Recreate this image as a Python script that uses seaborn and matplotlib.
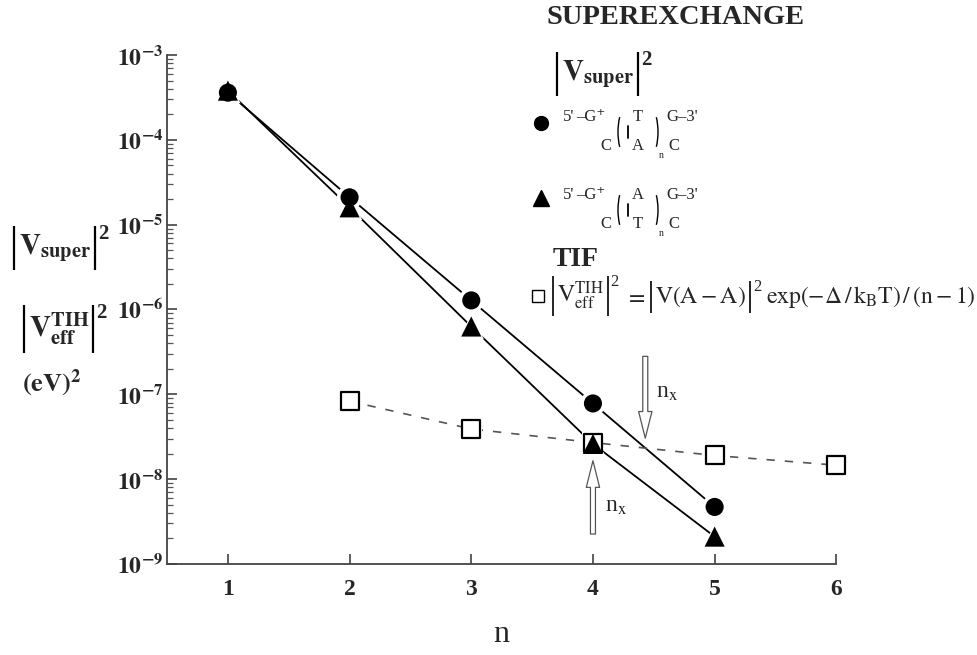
import numpy as np
import pandas as pd
import matplotlib
matplotlib.use("Agg")
import matplotlib.pyplot as plt
import seaborn as sns
from matplotlib.lines import Line2D
from matplotlib.patches import FancyArrowPatch, Arc
from matplotlib.transforms import IdentityTransform

# number of bridging base pairs
n_super = [1, 2, 3, 4, 5]
n_tif = [2, 3, 4, 5, 6]

# |V_super|^2 (eV^2) for the two bridge sequences
v_TA = [3.6e-4, 2.1e-5, 1.28e-6, 7.8e-8, 4.7e-9]   # circles
v_AT = [3.8e-4, 1.6e-5, 6.3e-7, 2.6e-8, 2.1e-9]    # triangles
# thermally induced hopping effective coupling
v_tif = [8.3e-8, 3.9e-8, 2.7e-8, 1.9e-8, 1.46e-8]  # squares

ytick_vals = [1e-9, 1e-8, 1e-7, 1e-6, 1e-5, 1e-4, 1e-3]
ytick_labels = [r"$\mathbf{10^{-9}}$", r"$\mathbf{10^{-8}}$", r"$\mathbf{10^{-7}}$",
                r"$\mathbf{10^{-6}}$", r"$\mathbf{10^{-5}}$", r"$\mathbf{10^{-4}}$",
                r"$\mathbf{10^{-3}}$"]
xtick_vals = [1, 2, 3, 4, 5, 6]

sns.set_theme(style="ticks")
plt.rcParams["font.family"] = ["Liberation Serif", "DejaVu Serif"]
plt.rcParams["mathtext.fontset"] = "stix"

df_super = pd.DataFrame({"n": n_super, "TA": v_TA, "AT": v_AT})
df_tif = pd.DataFrame({"n": n_tif, "tif": v_tif})

W, H = 977, 655
fig = plt.figure(figsize=(W / 100, H / 100), dpi=100)
ax = fig.add_axes([0.171, 0.139, 0.685, 0.777])

# connecting lines
sns.lineplot(data=df_super, x="n", y="TA", ax=ax, color="black", lw=1.3, zorder=2)
sns.lineplot(data=df_super, x="n", y="AT", ax=ax, color="black", lw=1.3, zorder=2)
sns.lineplot(data=df_tif, x="n", y="tif", ax=ax, color="#555555", lw=1.2,
             dashes=False, zorder=2)
ax.lines[-1].set_dashes([5, 6])

# white halos that open small gaps in the lines around each marker
for d, col, mk, s in [(df_super, "TA", "o", 330), (df_super, "AT", "^", 330),
                      (df_tif, "tif", "s", 230)]:
    sns.scatterplot(data=d, x="n", y=col, ax=ax, marker=mk, s=s, color="white",
                    edgecolor="none", zorder=3, legend=False, clip_on=False)

sns.scatterplot(data=df_tif, x="n", y="tif", ax=ax, marker="s", s=150,
                facecolor="white", edgecolor="black", linewidth=1.6, zorder=4,
                legend=False, clip_on=False)
sns.scatterplot(data=df_super, x="n", y="AT", ax=ax, marker="^", s=210,
                color="black", edgecolor="none", zorder=5, legend=False)
sns.scatterplot(data=df_super, x="n", y="TA", ax=ax, marker="o", s=170,
                color="black", edgecolor="none", zorder=6, legend=False)

ax.set_yscale("log")
ax.set_xlim(0.5, 6.0)
ax.set_ylim(1e-9, 1e-3)
ax.set_yticks(ytick_vals)
ax.set_yticklabels(ytick_labels, fontsize=17)
ax.yaxis.set_minor_locator(matplotlib.ticker.LogLocator(base=10, subs=np.arange(2, 10)))
ax.yaxis.set_minor_formatter(matplotlib.ticker.NullFormatter())
ax.set_xticks(xtick_vals)
ax.set_xticklabels([str(v) for v in xtick_vals], fontsize=17, fontweight="bold")
ax.tick_params(axis="both", which="major", direction="in", length=7, width=1.1,
               color="#333333")
ax.tick_params(axis="x", which="major", pad=11)
ax.tick_params(axis="y", which="minor", direction="in", length=4, width=0.9,
               color="#555555")
ax.tick_params(axis="y", which="major", pad=3)
for side in ["top", "right"]:
    ax.spines[side].set_visible(False)
for side in ["left", "bottom"]:
    ax.spines[side].set_color("#444444")
    ax.spines[side].set_linewidth(1.3)
ax.set_xlabel("n", fontsize=23, labelpad=14)
ax.set_ylabel("")
ax.set_facecolor("white")

# hollow arrows marking the crossover length n_x
for (x0, y0), (x1, y1) in [((4.43, 10 ** -6.52), (4.43, 10 ** -7.55)),
                           ((4.0, 10 ** -8.68), (4.0, 10 ** -7.75))]:
    ax.add_patch(FancyArrowPatch((x0, y0), (x1, y1),
                                 arrowstyle="simple,head_width=0.8,head_length=1.6,tail_width=0.3",
                                 mutation_scale=12, fc="white", ec="#555555",
                                 lw=0.9, zorder=7))
ax.text(4.52, 10 ** -6.98, r"n$_{\rm x}$", fontsize=17, va="center", ha="left")
ax.text(4.1, 10 ** -8.32, r"n$_{\rm x}$", fontsize=17, va="center", ha="left")

# ---- text helpers working in output pixels (y measured from the top) ----
ident = IdentityTransform()
renderer = fig.canvas.get_renderer()


def put(x, y, s, fs, **kw):
    kw.setdefault("va", "baseline")
    t = fig.text(x, H - y, s, fontsize=fs, transform=ident, ha="left", **kw)
    return t.get_window_extent(renderer)


def vbar(x, y_top, y_bot, lw):
    fig.add_artist(Line2D([x, x], [H - y_top, H - y_bot], transform=ident,
                          color="black", lw=lw, solid_capstyle="butt"))


def abs_sq(x, y, inner, fs, two_fs, lw=1.3, pad=4, gap=5, extend=6):
    """|inner|^2 with bars as tall as the enclosed text; returns right edge."""
    bb = put(x + gap, y, inner, fs)
    top = H - bb.y1 - extend
    bot = H - bb.y0 + extend
    vbar(x, top, bot, lw)
    right = bb.x1 + pad
    vbar(right, top, bot, lw)
    b2 = put(right + 3, top - 2, "2", two_fs, va="top",
             fontweight="bold" if "mathbf" in inner else "normal")
    return b2.x1


# y-axis caption
abs_sq(14, 254, r"$\mathbf{V}_{\mathbf{super}}$", 21, 15, lw=1.6)
abs_sq(24, 337, r"$\mathbf{V}_{\mathbf{eff}}^{\mathbf{TIH}}$", 21, 15, lw=1.6)
put(22, 392, r"$\mathbf{(eV)^2}$", 19)


# key on the right
def fx(px):
    return px / W


def fy(py):
    return 1 - py / H


fig.text(fx(547), fy(18), "SUPEREXCHANGE", fontsize=20.5, fontweight="bold",
         va="center", ha="left")
abs_sq(557, 80, r"$\mathbf{V}_{\mathbf{super}}$", 21, 15, lw=1.6)


def sequence(y_top, top_mid, bot_mid):
    y_bot = y_top + 29
    fs = 12
    fig.text(fx(563), fy(y_top), "5'", fontsize=fs, va="center", ha="left")
    fig.text(fx(576), fy(y_top), "\u2012G\u207a", fontsize=fs, va="center", ha="left")
    fig.text(fx(638), fy(y_top), top_mid, fontsize=fs, va="center", ha="center")
    fig.text(fx(666), fy(y_top), "G\u20123'", fontsize=fs, va="center", ha="left")
    fig.text(fx(606), fy(y_bot), "C", fontsize=fs, va="center", ha="center")
    fig.text(fx(638), fy(y_bot), bot_mid, fontsize=fs, va="center", ha="center")
    fig.text(fx(674), fy(y_bot), "C", fontsize=fs, va="center", ha="center")
    yc = y_top + 15
    fig.add_artist(Arc((fx(630), fy(yc)), 24 / W, 58 / H, theta1=115, theta2=245,
                       transform=fig.transFigure, color="black", lw=1.0))
    fig.add_artist(Arc((fx(646), fy(yc)), 24 / W, 58 / H, theta1=-65, theta2=65,
                       transform=fig.transFigure, color="black", lw=1.0))
    fig.text(fx(661), fy(y_bot + 9), "n", fontsize=7, va="center", ha="center")
    fig.add_artist(Line2D([fx(628), fx(628)], [fy(y_top + 9), fy(y_top + 21)],
                          color="black", lw=1.3))


fig.add_artist(Line2D([fx(541)], [fy(123)], marker="o", ms=10, color="black", ls="none"))
sequence(117, "T", "A")
fig.add_artist(Line2D([fx(541)], [fy(198)], marker="^", ms=11, color="black", ls="none"))
sequence(195, "A", "T")

fig.text(fx(553), fy(260), "TIF", fontsize=20, fontweight="bold", va="center", ha="left")
fig.add_artist(Line2D([fx(538)], [fy(296)], marker="s", ms=8, mfc="white",
                      mec="black", mew=1.0, ls="none"))

# TIF expression: |V_eff^TIH|^2 = |V(A-A)|^2 exp(-Delta/k_B T)/(n-1)
fy_base = 303
x = abs_sq(553, fy_base, r"$\mathrm{V}_{\rm eff}^{\rm TIH}$", 17, 12, lw=1.2,
           extend=4, gap=4)
bb = put(x + 6, fy_base, r"$=$", 17)
x = abs_sq(bb.x1 + 6, fy_base, r"$\mathrm{V(A-A)}$", 17, 12, lw=1.2, extend=4, gap=4)
put(x + 5, fy_base, r"$\mathrm{exp}(-\Delta\,/\,\mathrm{k_B T})\,/\,(\mathrm{n}-1)$", 17)

fig.savefig("out.png", dpi=100, facecolor="white")
